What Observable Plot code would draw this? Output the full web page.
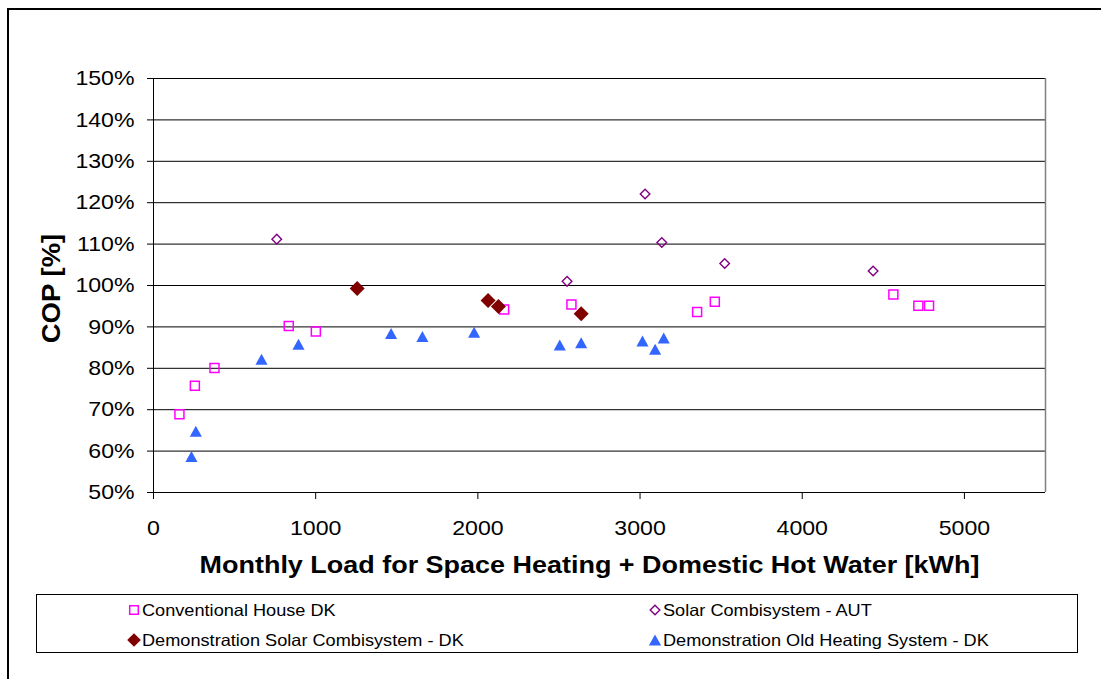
<!DOCTYPE html>
<html><head><meta charset="utf-8">
<script src="https://cdn.jsdelivr.net/npm/d3@7"></script>
<script src="https://cdn.jsdelivr.net/npm/@observablehq/plot@0.6"></script>
<style>
html,body{margin:0;padding:0;width:1101px;height:679px;overflow:hidden;background:#fff;font-family:"Liberation Sans",Arial,sans-serif;}
#frame{position:absolute;left:7px;top:8px;width:1200px;height:800px;border:2px solid #000;}
#chart{position:absolute;left:0;top:0;}
#legend{position:absolute;left:36px;top:594px;width:1042px;height:59px;border:1px solid #000;box-sizing:border-box;background:#fff;}
.item{position:absolute;left:0;height:20px;width:100%;font-size:16.5px;line-height:20px;white-space:nowrap;color:#000;}
.item svg{position:absolute;top:3px;overflow:visible;}
.item span{position:absolute;top:0;display:inline-block;transform:scaleX(1.1);transform-origin:0 50%;}
</style></head><body>
<div id="frame"></div><div id="chart"></div><div id="legend"></div>
<script>
// ---- data ----
const seriesNames = ["Conventional House DK", "Solar Combisystem - AUT", "Demonstration Solar Combisystem - DK", "Demonstration Old Heating System - DK"];
const convLoad = [160, 255, 376, 834, 1001, 2162, 2577, 3352, 3461, 4562, 4716, 4782];
const convCop  = [68.9, 75.8, 80.1, 90.2, 88.9, 94.2, 95.4, 93.6, 96.1, 97.8, 95.1, 95.1];
const autLoad = [760, 2550, 3031, 3134, 3522, 4437];
const autCop  = [111.2, 101.0, 122.1, 110.4, 105.3, 103.5];
const demoLoad = [1256, 2063, 2127, 2637];
const demoCop  = [99.3, 96.4, 94.9, 93.2];
const oldLoad = [234, 261, 666, 894, 1465, 1658, 1977, 2505, 2637, 3015, 3093, 3146];
const oldCop  = [58.7, 64.8, 82.2, 85.8, 88.4, 87.7, 88.7, 85.6, 86.2, 86.6, 84.6, 87.3];
const xTicks = [0, 1000, 2000, 3000, 4000, 5000];
const yTicks = [50, 60, 70, 80, 90, 100, 110, 120, 130, 140, 150];
const xTitle = "Monthly Load for Space Heating + Domestic Hot Water [kWh]";
const yTitle = "COP [%]";

// ---- symbols (r = half size) ----
const rad = s => Math.sqrt(s / Math.PI);
const sq = {draw(c, s){ const r = rad(s); c.moveTo(-r,-r); c.lineTo(r,-r); c.lineTo(r,r); c.lineTo(-r,r); c.closePath(); }};
const dia = {draw(c, s){ const r = rad(s); c.moveTo(0,-r); c.lineTo(r,0); c.lineTo(0,r); c.lineTo(-r,0); c.closePath(); }};
const tri = {draw(c, s){ const r = rad(s); c.moveTo(0,-r); c.lineTo(1.1*r,r); c.lineTo(-1.1*r,r); c.closePath(); }};

const toRows = (xs, ys) => xs.map((x, i) => ({x, y: ys[i]}));
const styles = [
  {symbol: sq,  r: 4.5, stroke: "#FF00FF", strokeWidth: 1.5, fill: "none"},
  {symbol: dia, r: 4.8, stroke: "#800080", strokeWidth: 1.4, fill: "none"},
  {symbol: dia, r: 7.5, stroke: "none", fill: "#800000"},
  {symbol: tri, r: 5.5, stroke: "none", fill: "#3366FF"}
];
const datasets = [toRows(convLoad, convCop), toRows(autLoad, autCop), toRows(demoLoad, demoCop), toRows(oldLoad, oldCop)];

const plot = Plot.plot({
  width: 1101, height: 600,
  marginLeft: 153, marginRight: 56, marginTop: 78, marginBottom: 108,
  style: {fontFamily: "'Liberation Sans', Arial, sans-serif", fontSize: "21px", color: "#000", background: "transparent", overflow: "visible"},
  x: {domain: [0, 5500]},
  y: {domain: [50, 150]},
  marks: [
    Plot.ruleY(yTicks, {stroke: "#000", strokeWidth: 1, strokeOpacity: 1}),
    Plot.ruleX([5500], {stroke: "#808080", strokeWidth: 1.5}),
    Plot.ruleX([0], {stroke: "#000", strokeWidth: 1}),
    Plot.axisX({ticks: xTicks, tickSize: 7, tickPadding: 21, label: null, tickFormat: d3.format("d"), stroke: "#000"}),
    Plot.axisY({ticks: yTicks, tickSize: 6, tickPadding: 13, label: null, tickFormat: d => d + "%", stroke: "#000"}),
    ...datasets.map((d, i) => Plot.dot(d, {x: "x", y: "y", ...styles[i]})),
    Plot.text([xTitle], {text: d => d, frameAnchor: "bottom", textAnchor: "middle", lineAnchor: "middle", dx: -10, dy: 72.5, fontSize: 24.5, fontWeight: "bold", fill: "#000"}),
    Plot.text([yTitle], {text: d => d, frameAnchor: "left", textAnchor: "middle", lineAnchor: "middle", rotate: -90, dx: -102, dy: 3, fontSize: 25, fontWeight: "bold", fill: "#000"})
  ]
});
document.getElementById("chart").appendChild(plot);

// widen glyphs slightly, as in the reference rendering
d3.select(plot).selectAll("text").each(function(){
  const w = this.getComputedTextLength();
  if (w > 0) { this.setAttribute("textLength", (w * 1.1).toFixed(1)); this.setAttribute("lengthAdjust", "spacingAndGlyphs"); }
});

// ---- legend ----
const legend = document.getElementById("legend");
const pos = [{mx: 97, tx: 105, cy: 15}, {mx: 618, tx: 626, cy: 15}, {mx: 97, tx: 105, cy: 45}, {mx: 618, tx: 626, cy: 45}];
const legR = [4.3, 4.8, 6.8, 5.6];
seriesNames.forEach((name, i) => {
  const p = pos[i], st = styles[i];
  const div = document.createElement("div");
  div.className = "item";
  div.style.top = (p.cy - 10) + "px";
  const path = d3.path();
  st.symbol.draw(path, legR[i] * legR[i] * Math.PI);
  div.innerHTML = `<svg width="14" height="14" style="left:${p.mx - 7}px"><path transform="translate(7,7)" d="${path}" fill="${st.fill}" stroke="${st.stroke}" stroke-width="${st.strokeWidth || 0}"/></svg><span style="left:${p.tx}px"></span>`;
  div.querySelector("span").textContent = name;
  legend.appendChild(div);
});
</script></body></html>
